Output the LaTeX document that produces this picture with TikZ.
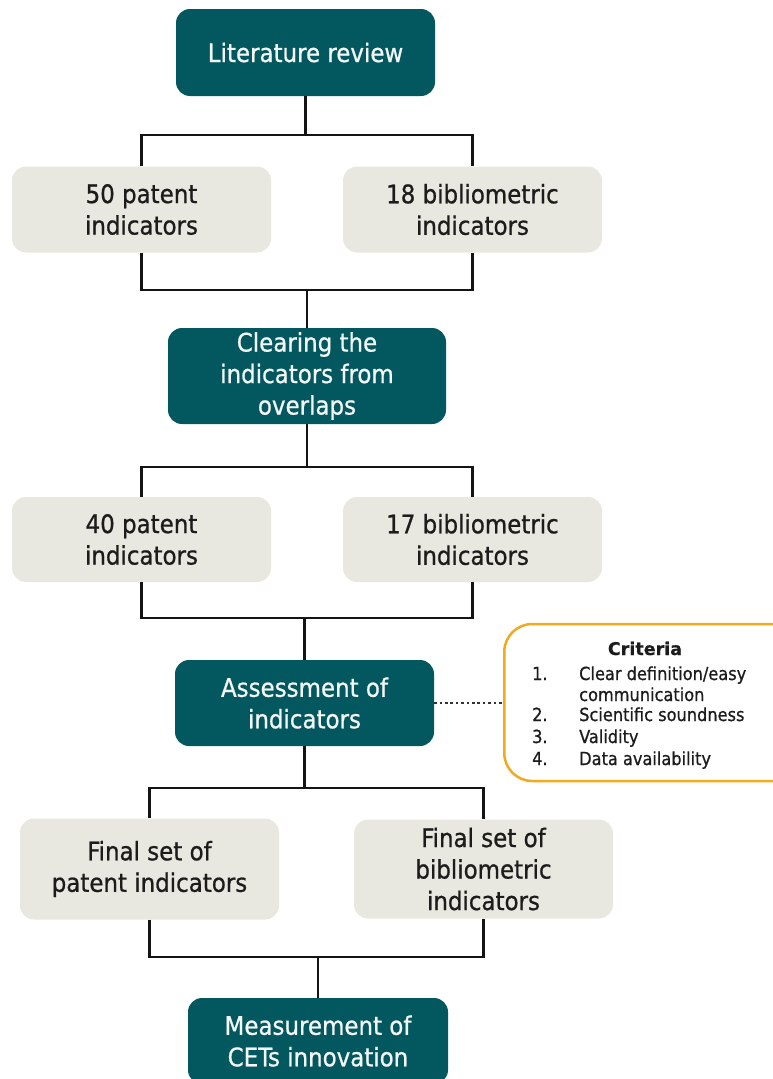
\documentclass[tikz,border=0pt]{standalone}
\usepackage{fontspec}
\setmainfont{DejaVu Sans Condensed}[FakeBold=0.8]
\newfontfamily\titlefont{DejaVu Sans}[FakeBold=0.6]
\definecolor{teal1}{HTML}{03585F}
\definecolor{beige1}{HTML}{E9E8E0}
\definecolor{orange1}{HTML}{F4A91C}
\definecolor{ink}{HTML}{1C1C1C}
\begin{document}
\begin{tikzpicture}[x=1pt,y=-1pt,
  bigfont/.style={font=\fontsize{25.5}{31.5}\selectfont},
  darkbox/.style={fill=teal1, rounded corners=14pt, text=white!95!teal1, bigfont, align=center, minimum width=259pt, minimum height=87pt, inner sep=0pt},
  lightbox/.style={fill=beige1, rounded corners=14pt, text=ink, bigfont, align=center, minimum width=259pt, minimum height=86pt, inner sep=0pt},
  critbox/.style={draw=orange1, fill=white, line width=2.5pt, rounded corners=28pt, inner sep=0pt},
  crittext/.style={anchor=base west, inner sep=0pt, text=ink, font=\fontsize{18}{21}\selectfont},
  conn/.style={line width=2.4pt, draw=black!92}]
\useasboundingbox (0,0) rectangle (773,1079);
\clip (0,0) rectangle (773,1079);
% nodes
\node[darkbox] (lit) at (305.5,52.5) {Literature review};
\node[lightbox] (p50) at (141.5,209.5) {50 patent\\indicators};
\node[lightbox] (b18) at (472.5,209.5) {18 bibliometric\\indicators};
\node[darkbox, minimum width=278pt, minimum height=96pt] (clear) at (307,376) {Clearing the\\indicators from\\overlaps};
\node[lightbox, minimum height=85pt] (p40) at (141.5,539.5) {40 patent\\indicators};
\node[lightbox, minimum height=85pt] (b17) at (472.5,539.5) {17 bibliometric\\indicators};
\node[darkbox, minimum height=86pt] (assess) at (304.5,703) {Assessment of\\indicators};
\node[critbox, anchor=west, minimum width=300pt, minimum height=157pt] (crit) at (503,702.5) {};
\node[lightbox, minimum height=101pt] (fp) at (149.5,869) {Final set of\\patent indicators};
\node[lightbox, minimum height=99pt] (fb) at (483.5,869) {Final set of\\bibliometric\\indicators};
\node[darkbox, minimum width=260pt, minimum height=86pt] (meas) at (318,1041) {Measurement of\\CETs innovation};
% criteria text
\node[anchor=base, inner sep=0pt, text=ink, font=\titlefont\bfseries\fontsize{17.5}{21}\selectfont] (crit0) at (645,655) {Criteria};
\node[crittext] (crit1) at (532,680) {\makebox[47pt][l]{1.}Clear definition/easy};
\node[crittext] (crit1b) at (579,701) {communication};
\node[crittext] (crit2) at (532,721) {\makebox[47pt][l]{2.}Scientific soundness};
\node[crittext] (crit3) at (532,743) {\makebox[47pt][l]{3.}Validity};
\node[crittext] (crit4) at (532,765) {\makebox[47pt][l]{4.}Data availability};
% junctions
\coordinate (j1) at (305.5,135);
\coordinate (j2) at (307,290);
\coordinate (j3) at (307,467);
\coordinate (j4) at (304.5,618);
\coordinate (j5) at (304.5,788);
\coordinate (j6) at (318,957);
% connectors
\draw[conn] (lit.south) -- (j1);
\draw[conn] (p50.north) |- (j1) -| (b18.north);
\draw[conn] (p50.south) |- (j2) -| (b18.south);
\draw[conn] (j2) -- (clear.north);
\draw[conn] (clear.south) -- (j3);
\draw[conn] (p40.north) |- (j3) -| (b17.north);
\draw[conn] (p40.south) |- (j4) -| (b17.south);
\draw[conn] (j4) -- (assess.north);
\draw[conn] (assess.south) -- (j5);
\draw[conn] (fp.north) |- (j5) -| (fb.north);
\draw[conn] (fp.south) |- (j6) -| (fb.south);
\draw[conn] (j6) -- (meas.north);
\draw[line width=2.6pt, draw=black!80, dash pattern=on 2.6pt off 2.8pt] (assess.east) -- (assess.east -| crit.west);
\end{tikzpicture}
\end{document}
